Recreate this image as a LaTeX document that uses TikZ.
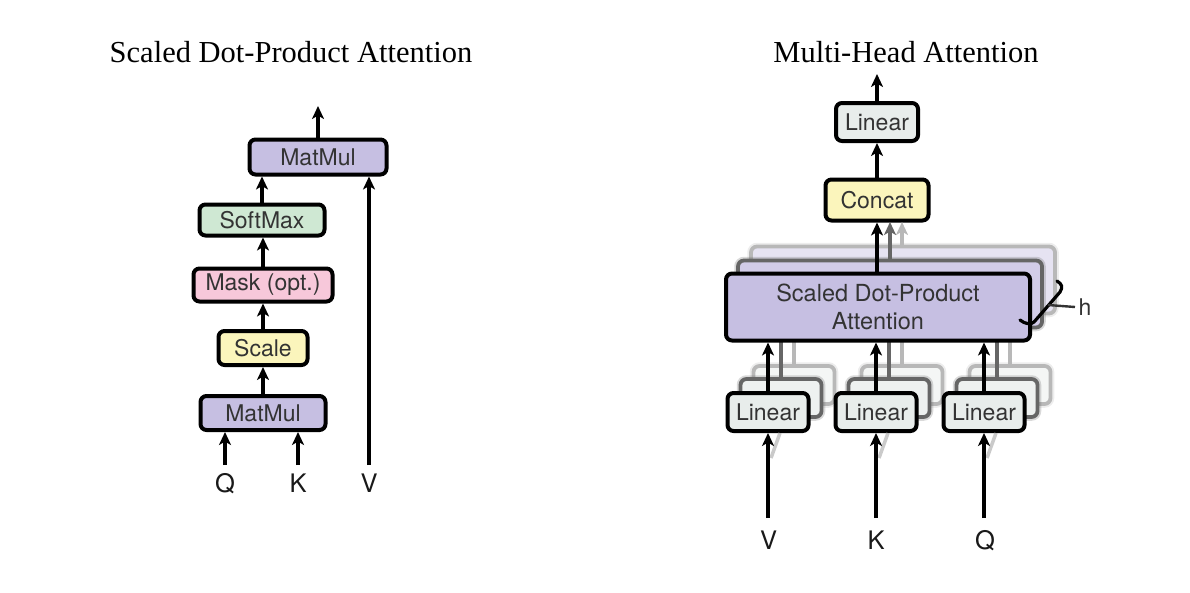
\documentclass[tikz,border=0pt]{standalone}
\usepackage{fontspec}
\setmainfont{Liberation Serif}
\newfontfamily\hv{TeX Gyre Heros}
\usetikzlibrary{arrows.meta,calc}
\definecolor{cpurple}{HTML}{C6BFE2}
\definecolor{cgreen}{HTML}{CFE8D3}
\definecolor{cpink}{HTML}{F7C8DA}
\definecolor{cyellow}{HTML}{FBF5BC}
\definecolor{clinear}{HTML}{E8EDEB}
\definecolor{txtgray}{HTML}{333333}
\definecolor{shpurpleA}{HTML}{D2CCE8}
\definecolor{shpurpleB}{HTML}{E6E3F2}
\definecolor{shlinA}{HTML}{EEF1F0}
\definecolor{shlinB}{HTML}{F4F6F5}
\definecolor{shdrawA}{HTML}{666666}
\definecolor{shdrawB}{HTML}{B8B8B8}
\begin{document}
\begin{tikzpicture}[x=1pt,y=-1pt,
  box/.style={draw=black, line width=4pt, rounded corners=6pt, inner sep=0pt,
    font=\hv\fontsize{23}{25}\selectfont, text=txtgray},
  shbox/.style={draw=#1, line width=3.8pt, rounded corners=6pt, inner sep=0pt,
    preaction={draw=#1, draw opacity=0.25, line width=7.5pt}},
  arr/.style={line width=4.2pt, -{Stealth[length=13pt,width=12pt,inset=3.5pt]}},
  sharr/.style={line width=4pt, draw=#1, -{Stealth[length=13pt,width=12pt,inset=3.5pt]}},
  shline/.style={line width=3.8pt, draw=#1},
  title/.style={font=\fontsize{30.5}{32}\selectfont, anchor=base},
  lab/.style={font=\hv\fontsize{25.5}{27}\selectfont, anchor=base, text=black!90},
]
\useasboundingbox (0,0) rectangle (1190,592);

% ---------------- Left: Scaled Dot-Product Attention ----------------
\node[title] (t1) at (291,62) {Scaled Dot-Product Attention};

\node[box, fill=cpurple, minimum width=137, minimum height=35] (mm2) at (318,157) {MatMul};
\node[box, fill=cgreen, minimum width=125, minimum height=31] (soft) at (262,220) {SoftMax};
\node[box, fill=cpink, minimum width=139, minimum height=33] (mask) at (263,285) {Mask (opt.)};
\node[box, fill=cyellow, minimum width=89, minimum height=34] (scale) at (263,348) {Scale};
\node[box, fill=cpurple, minimum width=125, minimum height=34] (mm1) at (263,413) {MatMul};

\node[lab] (ql) at (225,492) {Q};
\node[lab] (kl) at (298,492) {K};
\node[lab] (vl) at (369,492) {V};
\coordinate (qs) at (225,465);
\coordinate (ks) at (298,465);
\coordinate (vs) at (369,465);
\coordinate (out1) at (318,106);

\draw[arr] (qs) -- (qs |- mm1.south);
\draw[arr] (ks) -- (ks |- mm1.south);
\draw[arr] (vs) -- (vs |- mm2.south);
\draw[arr] (mm1.north) -- (scale.south);
\draw[arr] (scale.north) -- (mask.south);
\draw[arr] (mask.north) -- (mask.north |- soft.south);
\draw[arr] (soft.north) -- (soft.north |- mm2.south);
\draw[arr] (mm2.north) -- (out1);

% ---------------- Right: Multi-Head Attention ----------------
\node[title] (t2) at (906,62) {Multi-Head Attention};

% shadow copies of SDPA
\node[shbox=shdrawB, fill=shpurpleB, minimum width=304, minimum height=67] (sdpc) at (903,280) {};
\node[shbox=shdrawA, fill=shpurpleA, minimum width=304, minimum height=67] (sdpb) at (890,294) {};

% shadow copies of Linear boxes
\foreach \cx/\nm in {768/v,876/k,984/q}{
  \node[shbox=shdrawB, fill=shlinB, minimum width=81, minimum height=38] (lin\nm c) at (\cx+26,385) {};
  \node[shbox=shdrawA, fill=shlinA, minimum width=81, minimum height=38] (lin\nm b) at (\cx+13,398) {};
}
% shadow connectors from Linear copies
\foreach \nm in {v,k,q}{
  \draw[shline=shdrawB] (lin\nm c.north) -- ++(0,-45);
  \draw[shline=shdrawA] (lin\nm b.north) -- ++(0,-45);
}

\node[box, fill=cpurple, minimum width=304, minimum height=67, align=center,
      font=\hv\fontsize{23.5}{28}\selectfont] (sdpa) at (878,307) {Scaled Dot-Product\\Attention};

\node[box, fill=clinear, minimum width=81, minimum height=38] (linv) at (768,412) {Linear};
\node[box, fill=clinear, minimum width=81, minimum height=38] (link) at (876,412) {Linear};
\node[box, fill=clinear, minimum width=81, minimum height=38] (linq) at (984,412) {Linear};

\node[box, fill=cyellow, minimum width=103, minimum height=41] (concat) at (877,200) {Concat};
\node[box, fill=clinear, minimum width=82, minimum height=38] (lintop) at (877,122) {Linear};

\node[lab] (vr) at (768.5,549) {V};
\node[lab] (kr) at (876,549) {K};
\node[lab] (qr) at (985,549) {Q};
\coordinate (vrs) at (768,518);
\coordinate (krs) at (876,518);
\coordinate (qrs) at (984,518);
\coordinate (out2) at (877,74);

% faint diagonal shadows of the input arrows
\foreach \cx in {768,876,984}{
  \draw[line width=3.5pt, draw=gray!70, opacity=0.6] (\cx+3,458) -- (\cx+12,433);
}

\draw[arr] (vrs) -- (linv.south);
\draw[arr] (krs) -- (link.south);
\draw[arr] (qrs) -- (linq.south);
\draw[arr] (linv.north) -- (linv.north |- sdpa.south);
\draw[arr] (link.north) -- (link.north |- sdpa.south);
\draw[arr] (linq.north) -- (linq.north |- sdpa.south);

\draw[sharr=shdrawB] (902,246) -- (902,222);
\draw[sharr=shdrawA] (890,260) -- (890,222);
\draw[arr] (sdpa.north -| concat.south) -- (concat.south);
\draw[arr] (concat.north) -- (lintop.south);
\draw[arr] (lintop.north) -- (out2);

% h brace
\coordinate (hb1) at (1057,281);
\coordinate (hb2) at (1034,322);
\coordinate (hb3) at (1020,320);
\draw[line width=3.2pt, line cap=round] (hb1) .. controls (1062,284) and (1063,287) .. (1060,292)
   -- (hb2) .. controls (1031,325) and (1025,324) .. (hb3);
\node[font=\hv\fontsize{23}{25}\selectfont, text=txtgray, anchor=west] (hlab) at (1075,307) {h};
\draw[line width=2.4pt, draw=txtgray] (1048,305) -- (hlab.west);
\end{tikzpicture}
\end{document}
